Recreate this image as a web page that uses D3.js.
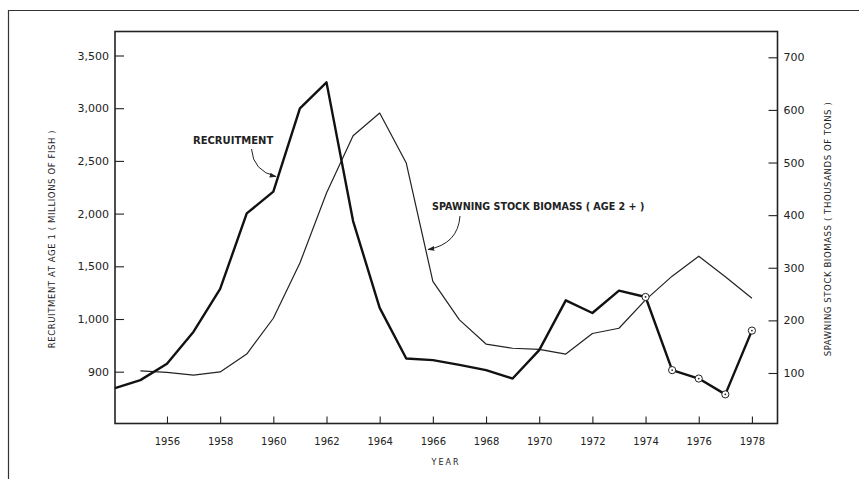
<!DOCTYPE html>
<html>
<head>
<meta charset="utf-8">
<script src="https://cdnjs.cloudflare.com/ajax/libs/d3/7.8.5/d3.min.js"></script>
<style>
	body { margin: 0; background: #fff; }
	svg { display: block; }
	text { font-family: "DejaVu Sans", sans-serif; fill: #222; }
</style>
</head>
<body>
<svg width="859" height="479"></svg>
<script>
// values
var recruitYears = [1954, 1955, 1956, 1957, 1958, 1959, 1960, 1961, 1962, 1963, 1964, 1965, 1966,
	1967, 1968, 1969, 1970, 1971, 1972, 1973, 1974, 1975, 1976, 1977, 1978];
var recruitment = [869, 884, 915, 976, 1285, 2002, 2208, 2998, 3245, 1929, 1105, 925, 922,
	913, 903, 887, 941, 1177, 1057, 1269, 1209, 903, 887, 857, 978];
var biomassYears = [1955, 1956, 1957, 1958, 1959, 1960, 1961, 1962, 1963, 1964, 1965, 1966,
	1967, 1968, 1969, 1970, 1971, 1972, 1973, 1974, 1975, 1976, 1977, 1978];
var biomass = [104, 101, 96, 102, 136, 204, 309, 442, 551, 594, 499, 274,
	201, 155, 147, 145, 136, 175, 185, 239, 284, 322, 283, 242];
var circledYears = [1974, 1975, 1976, 1977, 1978];

var xTicks = [1956, 1958, 1960, 1962, 1964, 1966, 1968, 1970, 1972, 1974, 1976, 1978];
var leftTicks = [900, 1000, 1500, 2000, 2500, 3000, 3500];
var rightTicks = [100, 200, 300, 400, 500, 600, 700];

var svg = d3.select("svg");

var boxL = 115, boxR = 777.5, boxT = 31.5, boxB = 423.5;

var x = d3.scaleLinear().domain([1954, 1979]).range([113.8, 778.5]);
// the recruitment axis is broken: 900-1000 gets the same room as 500 units above it
var yL = d3.scaleLinear().domain([800, 900, 1000, 3500]).range([424.4, 371.7, 319, 55.5]);
var yR = d3.scaleLinear().domain([0, 700]).range([425.6, 57.3]);
var fmt = d3.format(",d");

// outer frame
svg.append("path")
	.attr("d", "M8.5,479V10.5H859")
	.attr("fill", "none").attr("stroke", "#333").attr("stroke-width", 1.2);

// plot box
svg.append("rect")
	.attr("x", boxL).attr("y", boxT)
	.attr("width", boxR - boxL).attr("height", boxB - boxT)
	.attr("fill", "none").attr("stroke", "#222").attr("stroke-width", 1.6);

function styleAxis(g) {
	g.select(".domain").remove();
	g.selectAll(".tick line").attr("stroke", "#222").attr("stroke-width", 1.1);
}

svg.append("g")
	.attr("transform", "translate(0," + boxB + ")")
	.call(d3.axisTop(x).tickValues(xTicks).tickSize(7).tickFormat(d3.format("d")))
	.call(styleAxis)
	.call(function(g) {
		g.selectAll(".tick text").attr("y", 14).attr("dy", "0.71em")
			.style("font-size", "10px").style("font-family", "DejaVu Sans");
	});

svg.append("g")
	.attr("transform", "translate(" + boxL + ",0)")
	.call(d3.axisRight(yL).tickValues(leftTicks).tickSize(9).tickFormat(fmt))
	.call(styleAxis)
	.call(function(g) {
		g.selectAll(".tick text").attr("x", -6).attr("text-anchor", "end")
			.style("font-size", "11px").style("font-family", "DejaVu Sans");
	});

svg.append("g")
	.attr("transform", "translate(" + boxR + ",0)")
	.call(d3.axisLeft(yR).tickValues(rightTicks).tickSize(9).tickFormat(d3.format("d")))
	.call(styleAxis)
	.call(function(g) {
		g.selectAll(".tick text").attr("x", 6).attr("text-anchor", "start")
			.style("font-size", "11px").style("font-family", "DejaVu Sans");
	});

// axis titles
svg.append("text")
	.attr("transform", "translate(55,239) rotate(-90)")
	.attr("text-anchor", "middle")
	.style("font-size", "8.5px").style("letter-spacing", "0.6px")
	.text("RECRUITMENT AT AGE 1 ( MILLIONS OF FISH )");

svg.append("text")
	.attr("transform", "translate(831,229) rotate(-90)")
	.attr("text-anchor", "middle")
	.style("font-size", "8.5px").style("letter-spacing", "0.6px")
	.text("SPAWNING STOCK BIOMASS ( THOUSANDS OF TONS )");

svg.append("text")
	.attr("x", 446).attr("y", 465)
	.attr("text-anchor", "middle")
	.style("font-size", "8px").style("letter-spacing", "2px")
	.text("YEAR");

// series
var recData = recruitYears.map(function(d, i) { return { year: d, value: recruitment[i] }; });
var bioData = biomassYears.map(function(d, i) { return { year: d, value: biomass[i] }; });

svg.append("path")
	.datum(bioData)
	.attr("fill", "none").attr("stroke", "#222").attr("stroke-width", 1.2)
	.attr("stroke-linejoin", "round")
	.attr("d", d3.line()
		.x(function(d) { return x(d.year); })
		.y(function(d) { return yR(d.value); }));

svg.append("path")
	.datum(recData)
	.attr("fill", "none").attr("stroke", "#111").attr("stroke-width", 2.4)
	.attr("stroke-linejoin", "round")
	.attr("d", d3.line()
		.x(function(d) { return Math.max(boxL, x(d.year)); })
		.y(function(d) { return yL(d.value); }));

var marks = svg.selectAll(".mark")
	.data(recData.filter(function(d) { return circledYears.indexOf(d.year) >= 0; }))
	.enter().append("g")
	.attr("class", "mark")
	.attr("transform", function(d) { return "translate(" + x(d.year) + "," + yL(d.value) + ")"; });
marks.append("circle").attr("r", 3.6)
	.attr("fill", "#fff").attr("stroke", "#222").attr("stroke-width", 1);
marks.append("circle").attr("r", 0.9).attr("fill", "#222");

// labels with arrows
svg.append("defs").append("marker")
	.attr("id", "arrow")
	.attr("viewBox", "0 0 10 10")
	.attr("refX", 9).attr("refY", 5)
	.attr("markerWidth", 7).attr("markerHeight", 7)
	.attr("markerUnits", "userSpaceOnUse")
	.attr("orient", "auto")
	.append("path").attr("d", "M0,1.5L10,5L0,8.5Z").attr("fill", "#222");

svg.append("text")
	.attr("x", 193).attr("y", 144)
	.style("font-size", "10px").style("font-weight", "bold")
	.text("RECRUITMENT");

svg.append("path")
	.attr("d", "M251.5,149Q253,171 276,176.5")
	.attr("fill", "none").attr("stroke", "#222").attr("stroke-width", 1)
	.attr("marker-end", "url(#arrow)");

svg.append("text")
	.attr("x", 432).attr("y", 210)
	.style("font-size", "9.6px").style("font-weight", "bold")
	.text("SPAWNING STOCK BIOMASS ( AGE 2 + )");

svg.append("path")
	.attr("d", "M460,216Q458,244 428,249.5")
	.attr("fill", "none").attr("stroke", "#222").attr("stroke-width", 1)
	.attr("marker-end", "url(#arrow)");
</script>
</body>
</html>
